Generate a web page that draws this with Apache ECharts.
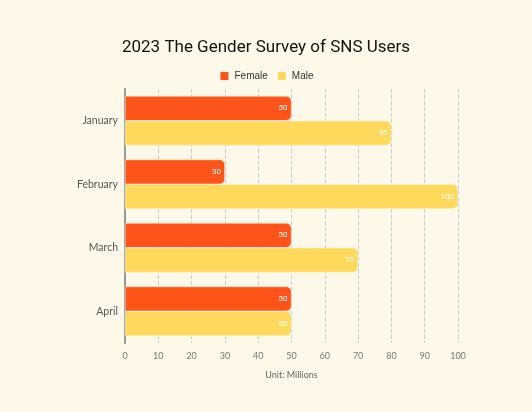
<!DOCTYPE html>
<html>
<head>
<meta charset="utf-8">
<script src="https://cdn.jsdelivr.net/npm/echarts@6/dist/echarts.min.js"></script>
<style>
  html, body { margin: 0; padding: 0; background: #fcf8ea; }
  #main { width: 532px; height: 412px; }
</style>
</head>
<body>
<div id="main"></div>
<script>
const months = ['January', 'February', 'March', 'April']
const female = [50, 30, 50, 50]
const male = [80, 100, 70, 50]

const chart = echarts.init(document.querySelector('#main'))

const barLabel = {
  show: true,
  position: 'insideRight',
  color: '#fff',
  fontSize: 8,
  fontFamily: 'Roboto',
  distance: 4
}

chart.setOption({
  animation: false,
  backgroundColor: '#fcf8ea',
  title: {
    text: '2023 The Gender Survey of SNS Users',
    left: 'center',
    top: 34,
    textStyle: { fontFamily: 'Roboto', fontSize: 17, fontWeight: 'normal', color: '#111' }
  },
  legend: {
    top: 65,
    left: 'center',
    itemWidth: 10,
    itemHeight: 10,
    itemGap: 8,
    icon: 'rect',
    textStyle: { fontFamily: 'Liberation Sans', fontSize: 10, color: '#333' },
    data: ['Female', 'Male']
  },
  grid: { left: 125, right: 74, top: 89, bottom: 69, containLabel: false },
  xAxis: {
    type: 'value',
    min: 0,
    max: 100,
    interval: 10,
    name: 'Unit: Millions',
    nameLocation: 'middle',
    nameGap: 28,
    nameTextStyle: { fontFamily: 'Lato', fontSize: 9, color: '#666' },
    axisLine: { show: false },
    axisTick: { show: false },
    axisLabel: { fontFamily: 'Lato', fontSize: 9, color: '#777', margin: 9 },
    splitLine: { show: true, lineStyle: { type: 'dashed', color: '#ccc' } }
  },
  yAxis: {
    type: 'category',
    inverse: true,
    data: months,
    axisLine: { show: true, lineStyle: { color: '#999', width: 2 } },
    axisTick: { show: false },
    axisLabel: { fontFamily: 'Lato', fontSize: 10.5, color: '#555', margin: 7 }
  },
  series: [
    {
      name: 'Female',
      type: 'bar',
      data: female,
      barGap: '0%',
      barCategoryGap: '22%',
      itemStyle: { color: '#fe5419', borderRadius: [0, 5, 5, 0], borderColor: '#fcf8ea', borderWidth: 0.5 },
      label: barLabel
    },
    {
      name: 'Male',
      type: 'bar',
      data: male,
      itemStyle: { color: '#fed95c', borderRadius: [0, 5, 5, 0], borderColor: '#fcf8ea', borderWidth: 0.5 },
      label: barLabel
    }
  ]
})
</script>
</body>
</html>
